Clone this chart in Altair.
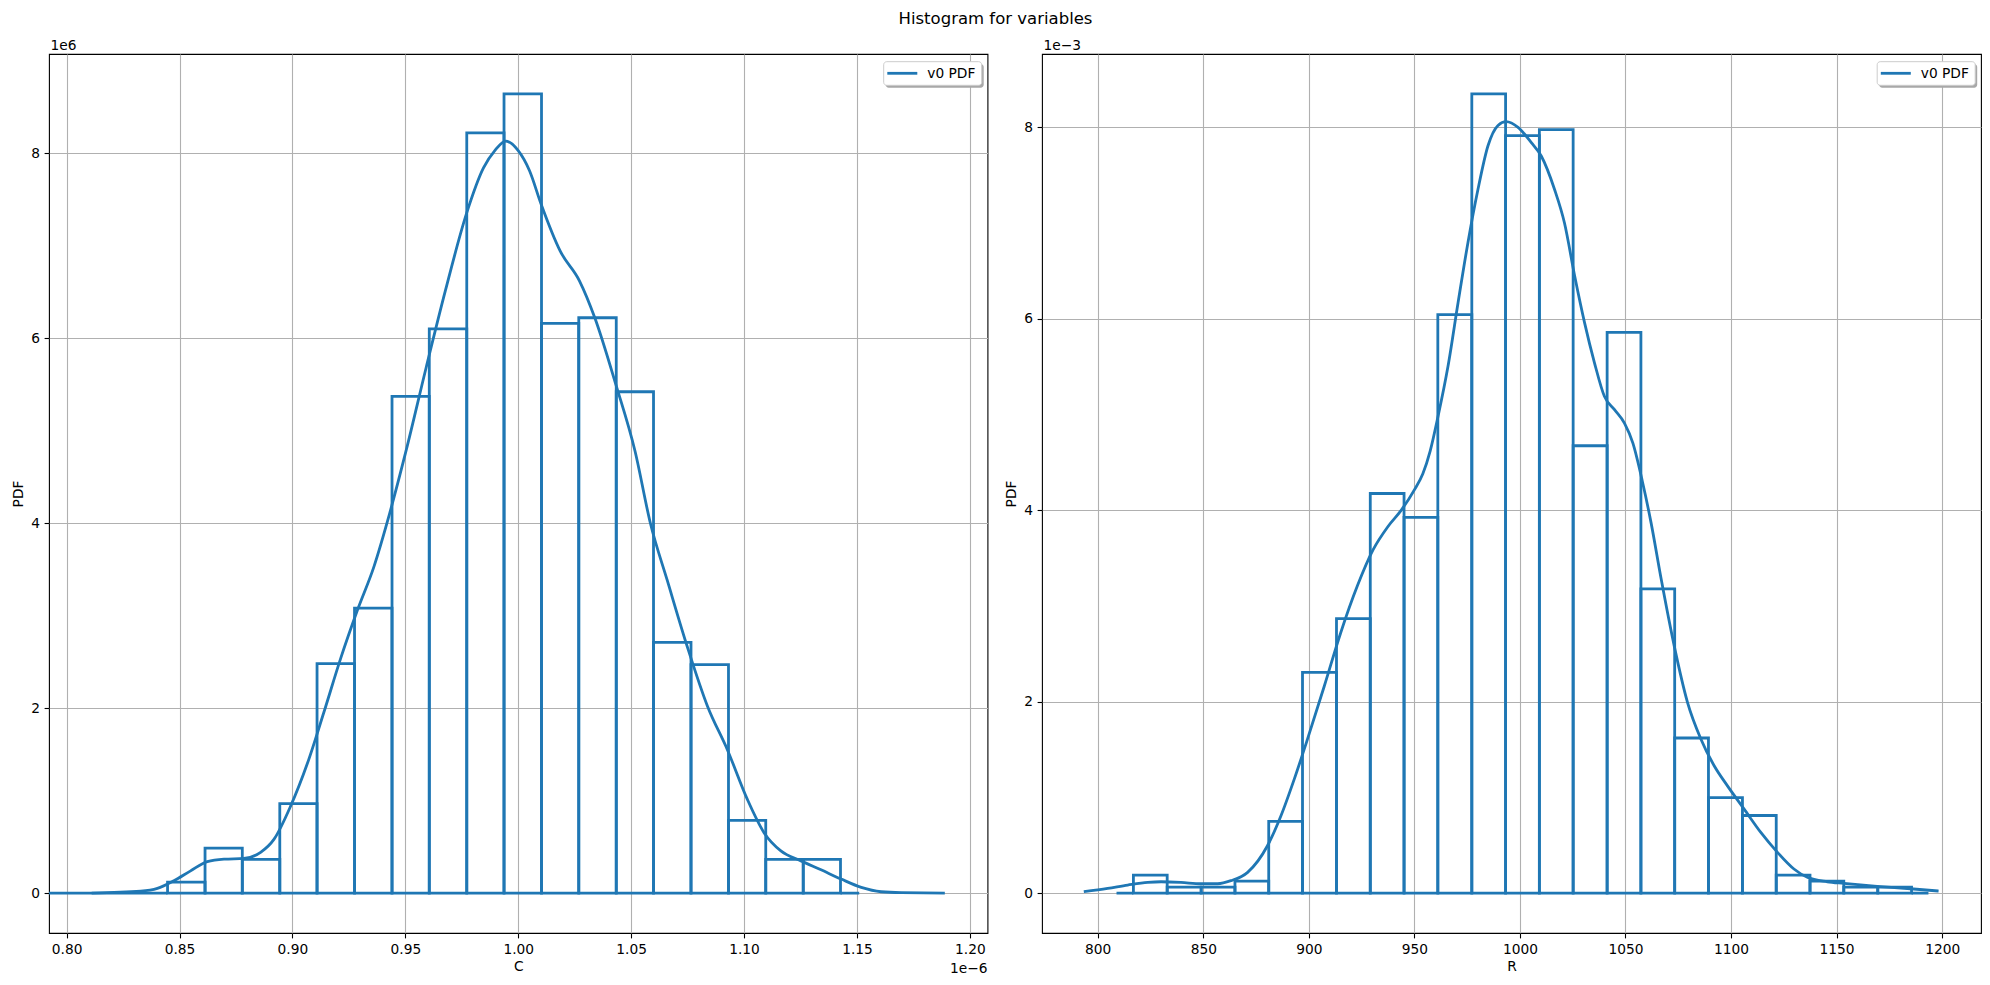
import altair as alt
import pandas as pd

BLUE = "#1f77b4"
FONT = "DejaVu Sans"
TICK_FS = 13.75

# ---------------- variable C (x in units of 1e-6, PDF in units of 1e6) ----------------
c_edges = [0.7922, 0.8447, 0.8613, 0.8778, 0.8944, 0.9109, 0.9275, 0.9441, 0.9606,
           0.9772, 0.9937, 1.0103, 1.0268, 1.0434, 1.0599, 1.0765, 1.0931, 1.1096,
           1.1262, 1.1427, 1.1510]
c_density = [0.0, 0.119, 0.485, 0.363, 0.967, 2.48, 3.08, 5.37, 6.10, 8.22, 8.64,
             6.16, 6.22, 5.42, 2.71, 2.47, 0.786, 0.363, 0.363, 0.0]
c_kde_x = [0.8111, 0.8328, 0.8402, 0.8475, 0.8549, 0.8623, 0.8697, 0.8785, 0.8859,
           0.8918, 0.8992, 0.9066, 0.9140, 0.9214, 0.9288, 0.9361, 0.9430, 0.9503,
           0.9592, 0.9677, 0.9770, 0.9846, 0.9897, 0.9945, 0.9999, 1.0050, 1.0101,
           1.0186, 1.0271, 1.0339, 1.0432, 1.0517, 1.0586, 1.0660, 1.0749, 1.0838,
           1.0926, 1.1015, 1.1089, 1.1163, 1.1252, 1.1341, 1.1430, 1.1519, 1.1607,
           1.1696, 1.1889]
c_kde_y = [0.000, 0.020, 0.050, 0.133, 0.240, 0.340, 0.367, 0.374, 0.440,
           0.580, 0.940, 1.400, 1.960, 2.540, 3.060, 3.530, 4.100, 4.780,
           5.680, 6.510, 7.340, 7.840, 8.030, 8.130, 8.030, 7.810, 7.450,
           6.940, 6.620, 6.220, 5.500, 4.780, 3.990, 3.380, 2.660, 2.020,
           1.550, 1.010, 0.650, 0.456, 0.348, 0.251, 0.151, 0.061, 0.014,
           0.004, 0.000]

# ---------------- variable R (PDF in units of 1e-3) ----------------
r_edges = [808.9, 816.9, 832.9, 849.0, 865.0, 881.0, 897.0, 913.1, 929.1, 945.1,
           961.1, 977.2, 993.2, 1009.2, 1025.2, 1041.3, 1057.3, 1073.3, 1089.3,
           1105.4, 1121.4, 1137.4, 1153.4, 1169.5, 1185.5, 1193.5]
r_density = [0.0, 0.187, 0.062, 0.062, 0.125, 0.748, 2.305, 2.866, 4.174, 3.925,
             6.044, 8.349, 7.913, 7.975, 4.673, 5.857, 3.178, 1.620, 0.997, 0.810,
             0.187, 0.125, 0.062, 0.062, 0.0]
r_kde_x = [793.4, 804.7, 814.2, 823.7, 830.0, 839.4, 848.9, 856.8, 863.1, 871.0,
           880.4, 886.8, 893.1, 899.4, 907.3, 915.1, 923.0, 930.4, 937.5, 943.8,
           950.2, 954.0, 957.5, 961.2, 965.9, 970.7, 975.4, 980.1, 984.9, 989.6,
           993.5, 999.1, 1005.4, 1010.1, 1016.4, 1021.1, 1025.9, 1030.6, 1035.3,
           1040.0, 1044.8, 1049.5, 1053.5, 1058.0, 1062.1, 1066.9, 1073.1, 1079.4,
           1085.7, 1092.0, 1098.3, 1106.2, 1114.1, 1122.0, 1129.8, 1136.1, 1145.6,
           1153.5, 1169.2, 1185.0, 1198.3]
r_kde_y = [0.014, 0.049, 0.083, 0.111, 0.118, 0.111, 0.097, 0.097, 0.129, 0.216,
           0.494, 0.807, 1.190, 1.610, 2.160, 2.720, 3.210, 3.585, 3.830, 4.000,
           4.220, 4.380, 4.620, 4.980, 5.500, 6.170, 6.800, 7.350, 7.810, 8.020,
           8.060, 8.000, 7.840, 7.700, 7.350, 7.000, 6.450, 5.960, 5.540,
           5.190, 5.050, 4.910, 4.700, 4.300, 3.870, 3.280, 2.580, 1.990,
           1.610, 1.330, 1.120, 0.877, 0.633, 0.425, 0.251, 0.164, 0.118,
           0.101, 0.070, 0.045, 0.021]

c_ticks = [0.80, 0.85, 0.90, 0.95, 1.00, 1.05, 1.10, 1.15, 1.20]
r_ticks = [800, 850, 900, 950, 1000, 1050, 1100, 1150, 1200]
pdf_ticks = [0, 2, 4, 6, 8]

PH = 879


def panel(edges, dens, kx, ky, xdom, ydom, xticks, xfmt, xtitle, yexp, xexp, pw,
          title_text=None):
    bars = pd.DataFrame({"lo": edges[:-1], "hi": edges[1:], "pdf": dens})
    kde = pd.DataFrame({"x": kx, "pdf": ky})

    xscale = alt.Scale(domain=xdom, nice=False, zero=False)
    yscale = alt.Scale(domain=ydom, nice=False, zero=False)
    xaxis = alt.Axis(values=xticks, format=xfmt, title=xtitle, titleX=pw / 2,
                     titleY=37.5, titleBaseline="alphabetic", titleAlign="center")
    yaxis = alt.Axis(values=pdf_ticks, format="d", title="PDF", titleX=-27,
                     titleBaseline="alphabetic")

    # histogram drawn as outlined bars sitting on zero
    hist = alt.Chart(bars).mark_rect(
        fillOpacity=0, stroke=BLUE, strokeWidth=2.8, clip=True
    ).encode(
        x=alt.X("lo:Q", scale=xscale, axis=xaxis),
        x2="hi:Q",
        y=alt.Y("pdf:Q", scale=yscale, axis=yaxis),
        y2=alt.datum(0),
    )

    # kernel density estimate
    curve = alt.Chart(kde).mark_line(
        color=BLUE, strokeWidth=2.8, interpolate="monotone", clip=True
    ).encode(
        x=alt.X("x:Q", scale=xscale, axis=xaxis),
        y=alt.Y("pdf:Q", scale=yscale, axis=yaxis),
    )

    # legend box in the upper right corner, with a drop shadow
    one = pd.DataFrame({"t": ["v0 PDF"]})
    lx0, lx1, ly0, ly1 = pw - 103.8, pw - 5.8, 7.7, 31.3
    shadow = alt.Chart(one).mark_rect(fill="#a8a8a8", cornerRadius=3).encode(
        x=alt.value(lx0 + 2), x2=alt.value(lx1 + 2),
        y=alt.value(ly0 + 2.4), y2=alt.value(ly1 + 2.4))
    box = alt.Chart(one).mark_rect(fill="white", stroke="#cccccc", strokeWidth=1,
                                   cornerRadius=3).encode(
        x=alt.value(lx0), x2=alt.value(lx1), y=alt.value(ly0), y2=alt.value(ly1))
    sample = alt.Chart(one).mark_rule(color=BLUE, strokeWidth=2.8).encode(
        x=alt.value(lx0 + 3.6), x2=alt.value(lx0 + 33.6), y=alt.value(19.3))
    label = alt.Chart(one).mark_text(
        align="left", baseline="middle", font=FONT, fontSize=TICK_FS, color="black"
    ).encode(x=alt.value(lx0 + 43.6), y=alt.value(19.6), text="t:N")

    # scale-exponent note above the y axis
    exp_df = pd.DataFrame({"t": [yexp]})
    yexp_txt = alt.Chart(exp_df).mark_text(
        align="left", baseline="alphabetic", font=FONT, fontSize=TICK_FS, color="black"
    ).encode(x=alt.value(1.5), y=alt.value(-4), text="t:N")

    layers = [hist, curve, shadow, box, sample, label, yexp_txt]

    if xexp:
        xexp_df = pd.DataFrame({"t": [xexp]})
        layers.append(alt.Chart(xexp_df).mark_text(
            align="right", baseline="alphabetic", font=FONT, fontSize=TICK_FS,
            color="black"
        ).encode(x=alt.value(pw), y=alt.value(PH + 40), text="t:N"))

    if title_text:
        tdf = pd.DataFrame({"t": [title_text]})
        layers.append(alt.Chart(tdf).mark_text(
            align="center", baseline="alphabetic", font=FONT, fontSize=16.5,
            color="black"
        ).encode(x=alt.value(946.5), y=alt.value(-30.5), text="t:N"))

    return alt.layer(*layers).properties(width=pw, height=PH)


left = panel(c_edges, c_density, c_kde_x, c_kde_y, [0.7922, 1.2078], [-0.432, 9.072],
             c_ticks, ".2f", "C", "1e6", "1e\u22126", 938.5,
             title_text="Histogram for variables")
right = panel(r_edges, r_density, r_kde_x, r_kde_y, [773.6, 1218.4], [-0.4175, 8.766],
              r_ticks, "d", "R", "1e\u22123", None, 939)

chart = alt.hconcat(left, right, spacing=54, bounds="flush").properties(
    padding={"left": 10, "top": 9, "right": 0, "bottom": 0},
    background="white",
).configure_view(
    stroke="black", strokeWidth=1.1
).configure_axis(
    domain=False,
    grid=True,
    gridColor="#b0b0b0",
    gridWidth=1.1,
    tickColor="black",
    tickSize=4.9,
    tickWidth=1.1,
    labelFont=FONT,
    labelFontSize=TICK_FS,
    labelColor="black",
    labelPadding=4.5,
    titleFont=FONT,
    titleFontSize=TICK_FS,
    titleFontWeight="normal",
    titleColor="black",
)

chart.save("out.html", embed_options={"renderer": "svg", "actions": False})
